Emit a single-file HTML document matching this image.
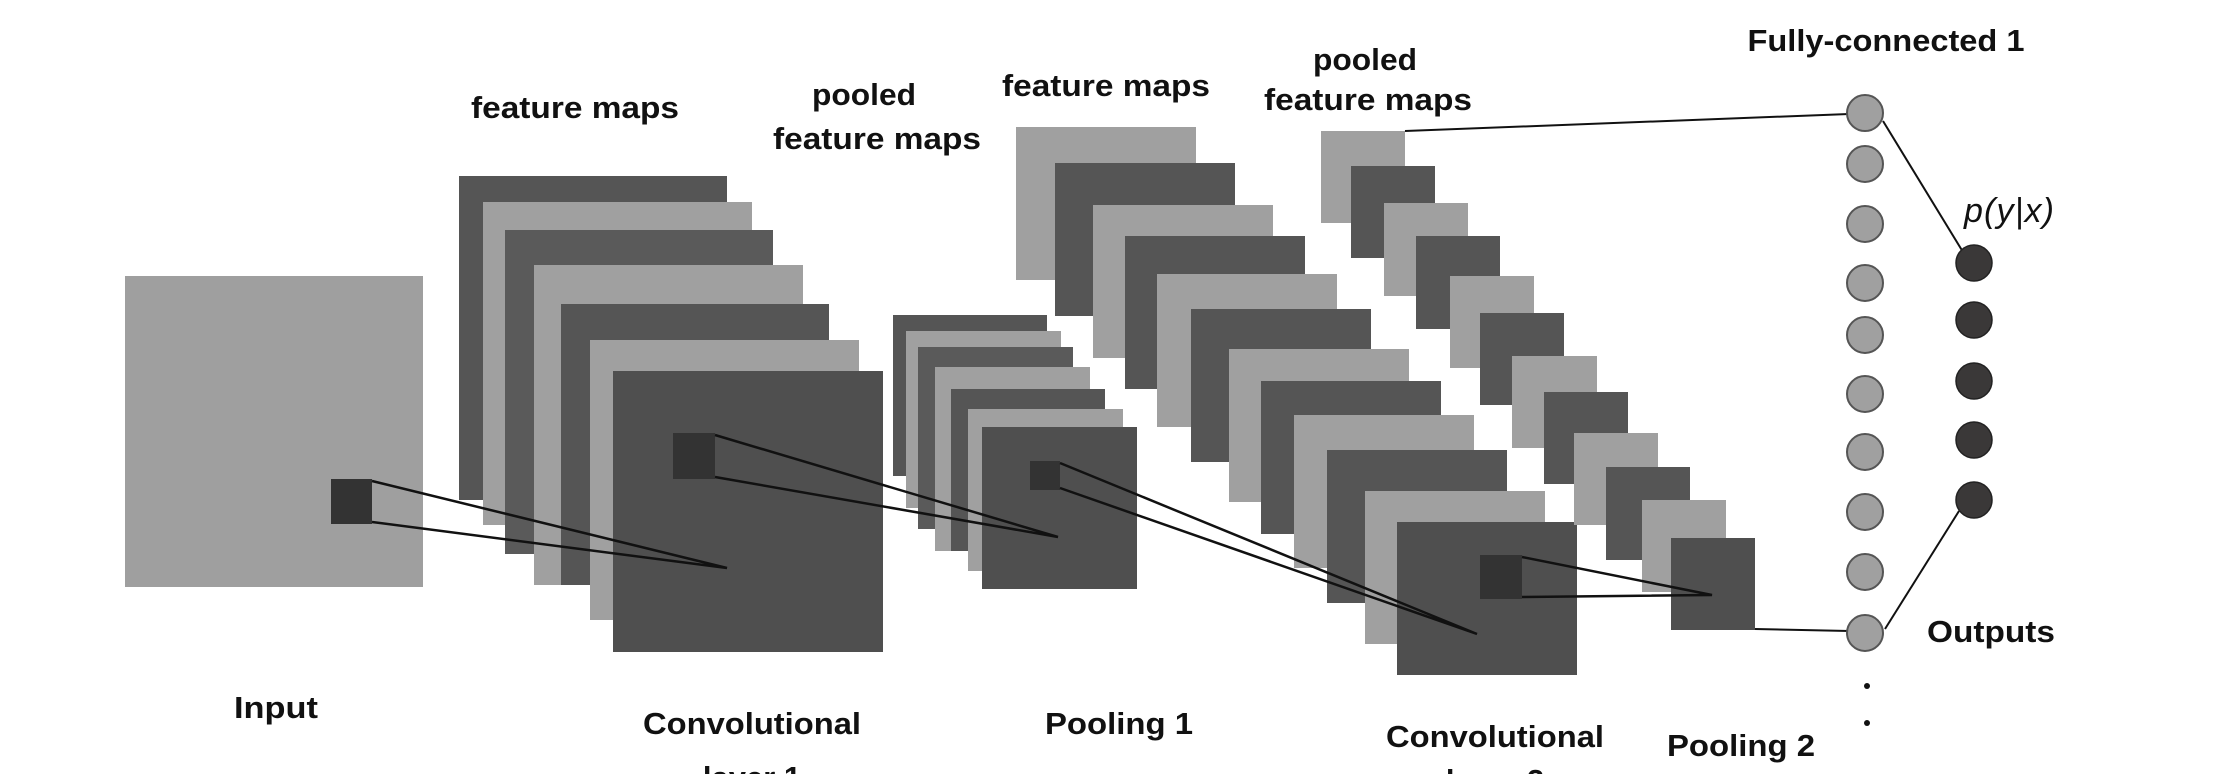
<!DOCTYPE html>
<html><head><meta charset="utf-8"><style>
html,body{margin:0;padding:0;background:#fff;}
svg{display:block}
text{font-family:"Liberation Sans",sans-serif;font-weight:bold;fill:#111;font-size:31px;text-anchor:middle}
</style></head><body>
<svg width="2232" height="774" viewBox="0 0 2232 774" xmlns="http://www.w3.org/2000/svg">
<g stroke="none">
<rect x="125" y="276" width="298" height="311" fill="#9f9f9f"/>
<rect x="331" y="479" width="41" height="45" fill="#333"/>
<rect x="459" y="176" width="268" height="324" fill="#555"/>
<rect x="483" y="202" width="269" height="323" fill="#a0a0a0"/>
<rect x="505" y="230" width="268" height="324" fill="#5a5a5a"/>
<rect x="534" y="265" width="269" height="320" fill="#a0a0a0"/>
<rect x="561" y="304" width="268" height="281" fill="#555"/>
<rect x="590" y="340" width="269" height="280" fill="#a0a0a0"/>
<rect x="613" y="371" width="270" height="281" fill="#4f4f4f"/>
<rect x="673" y="433" width="42" height="46" fill="#333"/>
<rect x="893" y="315" width="154" height="161" fill="#555"/>
<rect x="906" y="331" width="155" height="177" fill="#a0a0a0"/>
<rect x="918" y="347" width="155" height="182" fill="#5a5a5a"/>
<rect x="935" y="367" width="155" height="184" fill="#a0a0a0"/>
<rect x="951" y="389" width="154" height="162" fill="#555"/>
<rect x="968" y="409" width="155" height="162" fill="#a0a0a0"/>
<rect x="982" y="427" width="155" height="162" fill="#4f4f4f"/>
<rect x="1030" y="461" width="30" height="29" fill="#333"/>
<rect x="1016" y="127" width="180" height="153" fill="#a0a0a0"/>
<rect x="1055" y="163" width="180" height="153" fill="#555"/>
<rect x="1093" y="205" width="180" height="153" fill="#a0a0a0"/>
<rect x="1125" y="236" width="180" height="153" fill="#555"/>
<rect x="1157" y="274" width="180" height="153" fill="#a0a0a0"/>
<rect x="1191" y="309" width="180" height="153" fill="#555"/>
<rect x="1229" y="349" width="180" height="153" fill="#a0a0a0"/>
<rect x="1261" y="381" width="180" height="153" fill="#555"/>
<rect x="1294" y="415" width="180" height="153" fill="#a0a0a0"/>
<rect x="1327" y="450" width="180" height="153" fill="#555"/>
<rect x="1365" y="491" width="180" height="153" fill="#a0a0a0"/>
<rect x="1397" y="522" width="180" height="153" fill="#4f4f4f"/>
<rect x="1480" y="555" width="42" height="44" fill="#333"/>
<rect x="1321" y="131" width="84" height="92" fill="#a0a0a0"/>
<rect x="1351" y="166" width="84" height="92" fill="#555"/>
<rect x="1384" y="203" width="84" height="93" fill="#a0a0a0"/>
<rect x="1416" y="236" width="84" height="93" fill="#555"/>
<rect x="1450" y="276" width="84" height="92" fill="#a0a0a0"/>
<rect x="1480" y="313" width="84" height="92" fill="#555"/>
<rect x="1512" y="356" width="85" height="92" fill="#a0a0a0"/>
<rect x="1544" y="392" width="84" height="92" fill="#555"/>
<rect x="1574" y="433" width="84" height="92" fill="#a0a0a0"/>
<rect x="1606" y="467" width="84" height="93" fill="#555"/>
<rect x="1642" y="500" width="84" height="92" fill="#a0a0a0"/>
<rect x="1671" y="538" width="84" height="92" fill="#4f4f4f"/>
</g>
<g stroke="#111" stroke-width="2.5" fill="none">
<polyline points="372,481 727,568 372,522"/>
<polyline points="715,435 1058,537 715,477"/>
<polyline points="1060,463 1477,634 1060,488"/>
<polyline points="1522,557 1712,595 1522,597"/>
<line x1="1405" y1="131" x2="1849" y2="114" stroke-width="2"/>
<line x1="1755" y1="629" x2="1849" y2="631" stroke-width="2"/>
<line x1="1883" y1="121" x2="1963" y2="252" stroke-width="2"/>
<line x1="1885" y1="629" x2="1959" y2="511" stroke-width="2"/>
</g>
<g fill="#a0a0a0" stroke="#555" stroke-width="2">
<circle cx="1865" cy="113" r="18"/>
<circle cx="1865" cy="164" r="18"/>
<circle cx="1865" cy="224" r="18"/>
<circle cx="1865" cy="283" r="18"/>
<circle cx="1865" cy="335" r="18"/>
<circle cx="1865" cy="394" r="18"/>
<circle cx="1865" cy="452" r="18"/>
<circle cx="1865" cy="512" r="18"/>
<circle cx="1865" cy="572" r="18"/>
<circle cx="1865" cy="633" r="18"/>
</g>
<g fill="#3a3838" stroke="#222" stroke-width="1.5">
<circle cx="1974" cy="263" r="18"/>
<circle cx="1974" cy="320" r="18"/>
<circle cx="1974" cy="381" r="18"/>
<circle cx="1974" cy="440" r="18"/>
<circle cx="1974" cy="500" r="18"/>
</g>
<circle cx="1867" cy="686" r="3" fill="#111"/>
<circle cx="1867" cy="723" r="3" fill="#111"/>
<text x="575" y="118" textLength="208" lengthAdjust="spacingAndGlyphs">feature maps</text>
<text x="864" y="105" textLength="104" lengthAdjust="spacingAndGlyphs">pooled</text>
<text x="877" y="149" textLength="208" lengthAdjust="spacingAndGlyphs">feature maps</text>
<text x="1106" y="96" textLength="208" lengthAdjust="spacingAndGlyphs">feature maps</text>
<text x="1365" y="70" textLength="104" lengthAdjust="spacingAndGlyphs">pooled</text>
<text x="1368" y="110" textLength="208" lengthAdjust="spacingAndGlyphs">feature maps</text>
<text x="1886" y="51" textLength="277" lengthAdjust="spacingAndGlyphs">Fully-connected 1</text>
<text x="2009" y="222" style="font-weight:normal;font-style:italic;font-size:34px" textLength="90" lengthAdjust="spacing">p(y|x)</text>
<text x="1991" y="642" textLength="128" lengthAdjust="spacingAndGlyphs">Outputs</text>
<text x="276" y="718" textLength="84" lengthAdjust="spacingAndGlyphs">Input</text>
<text x="752" y="734" textLength="218" lengthAdjust="spacingAndGlyphs">Convolutional</text>
<text x="752" y="788">layer 1</text>
<text x="1119" y="734" textLength="148" lengthAdjust="spacingAndGlyphs">Pooling 1</text>
<text x="1495" y="747" textLength="218" lengthAdjust="spacingAndGlyphs">Convolutional</text>
<text x="1495" y="791">layer 2</text>
<text x="1741" y="756" textLength="148" lengthAdjust="spacingAndGlyphs">Pooling 2</text>
</svg>
</body></html>
